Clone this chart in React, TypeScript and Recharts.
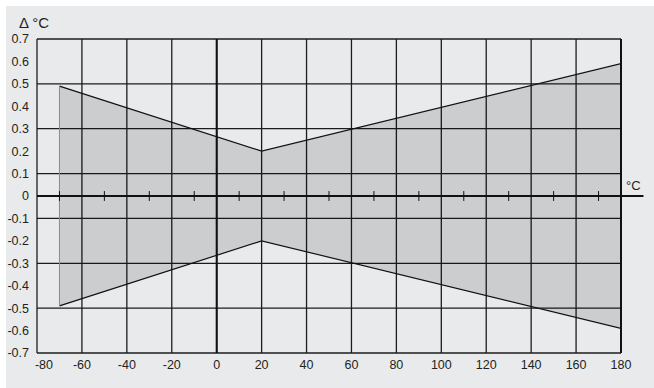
import {
    ComposedChart,
    Area,
    XAxis,
    YAxis,
    CartesianGrid,
    ReferenceLine,
} from "recharts";

const temps = [-70, 20, 180];
const upper = [0.49, 0.2, 0.59];
const lower = [-0.49, -0.2, -0.59];
const xTicks = [-80, -60, -40, -20, 0, 20, 40, 60, 80, 100, 120, 140, 160, 180];
const yTicks = [-0.7, -0.6, -0.5, -0.4, -0.3, -0.2, -0.1, 0, 0.1, 0.2, 0.3, 0.4, 0.5, 0.6, 0.7];
const minorTicks = [-70, -50, -30, -10, 10, 30, 50, 70, 90, 110, 130, 150, 170];

const data = temps.map((t, i) => ({ t, range: [lower[i], upper[i]] }));

const font = "'Liberation Sans', Arial, sans-serif";
const ink = "#231f20";

function XTick(props: any) {
    const { x, y, payload } = props;
    const dx = payload.value === -80 ? 7 : 0;
    return (
        <text x={x + dx} y={y} dy={8} textAnchor="middle" fontSize={12.5} fontFamily={font} fill={ink}>
            {payload.value}
        </text>
    );
}

export default function App() {
    return (
        <div
            style={{
                position: "absolute",
                left: 6,
                top: 6,
                width: 648,
                height: 382,
                background: "#e9eaec",
                fontFamily: font,
            }}
        >
            <div style={{ position: "absolute", left: 13, top: 8, fontSize: 15, color: ink }}>Δ °C</div>
            <div style={{ position: "absolute", left: 620, top: 172, fontSize: 13, color: ink }}>°C</div>
            <ComposedChart
                width={648}
                height={382}
                data={data}
                margin={{ top: 33, right: 33, bottom: 5, left: 0 }}
            >
                <CartesianGrid stroke="#1c1c1c" strokeWidth={1.3} />
                <XAxis
                    dataKey="t"
                    type="number"
                    domain={[-80, 180]}
                    ticks={xTicks}
                    axisLine={false}
                    tickLine={false}
                    tick={<XTick />}
                    height={30}
                    allowDataOverflow
                />
                <YAxis
                    type="number"
                    domain={[-0.7, 0.7]}
                    ticks={yTicks}
                    axisLine={false}
                    tickLine={false}
                    width={31}
                    tickMargin={2}
                    tick={{ fontSize: 12.5, fontFamily: font, fill: ink }}
                    tickFormatter={(v: number) => String(Number(v.toFixed(1)))}
                    allowDataOverflow
                />
                <Area
                    type="linear"
                    dataKey="range"
                    stroke="#111"
                    strokeWidth={1.2}
                    fill="#000"
                    fillOpacity={0.12}
                    isAnimationActive={false}
                    dot={false}
                    activeDot={false}
                />
                <ReferenceLine
                    segment={[{ x: temps[0], y: lower[0] }, { x: temps[0], y: upper[0] }]}
                    stroke="#8a8a8a"
                    strokeWidth={1}
                />
                <ReferenceLine x={0} stroke="#111" strokeWidth={2} />
                <ReferenceLine x={180} stroke="#111" strokeWidth={2} />
                <ReferenceLine
                    segment={[{ x: -80, y: 0 }, { x: 190, y: 0 }]}
                    ifOverflow="visible"
                    stroke="#111"
                    strokeWidth={2.2}
                />
                {minorTicks.map((t) => (
                    <ReferenceLine
                        key={t}
                        segment={[{ x: t, y: -0.022 }, { x: t, y: 0.022 }]}
                        stroke="#111"
                        strokeWidth={1}
                    />
                ))}
            </ComposedChart>
        </div>
    );
}
